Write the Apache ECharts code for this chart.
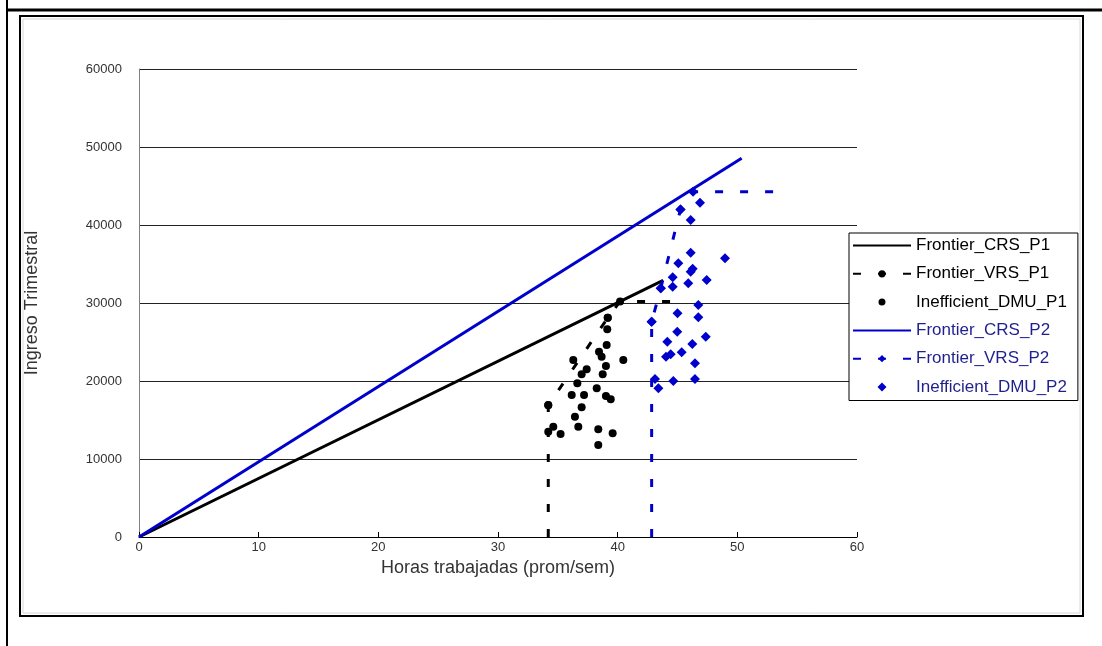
<!DOCTYPE html>
<html>
<head>
<meta charset="utf-8">
<script src="https://cdn.jsdelivr.net/npm/echarts@6/dist/echarts.min.js"></script>
<style>
  html, body { margin: 0; padding: 0; background: #fff; }
  #chart { width: 1102px; height: 646px; }
</style>
</head>
<body>
<div id="chart"></div>
<script>
// frontier lines (x = horas, y = ingreso)
const crsP1 = [[0, 0], [43.8, 32900]];
const vrsP1 = [[34.2, 0], [34.2, 16900], [39.17, 28100], [40.2, 30200], [44.5, 30200]];
const crsP2 = [[0, 0], [50.36, 48550]];
const vrsP2 = [[42.84, 0], [42.84, 27600], [43.6, 31880], [45.25, 42000], [46.3, 44270], [53.1, 44270]];

// inefficient DMUs
const dmuP1 = [
  [39.17, 28115], [39.13, 26630], [39.08, 24615], [38.44, 23760], [38.66, 23115],
  [36.29, 22690], [40.47, 22690], [39.02, 21920], [37.41, 21500], [36.99, 20860],
  [38.75, 20860], [36.63, 19700], [38.25, 19060], [36.16, 18200], [37.19, 18200],
  [39.02, 18080], [39.42, 17650], [34.2, 16920], [36.99, 16630], [36.43, 15420],
  [36.71, 14140], [34.62, 14140], [34.2, 13500], [35.23, 13200], [38.38, 13800],
  [39.58, 13300], [38.38, 11800]
];
const dmuP2 = [
  [45.25, 42000], [46.88, 42860], [46.1, 40640], [46.1, 36450], [45.07, 35090],
  [46.27, 34400], [46.1, 34000], [48.97, 35730], [44.6, 33300], [44.6, 32090],
  [43.6, 31880], [45.9, 32520], [47.44, 32950], [45.0, 28680], [46.74, 29740],
  [46.74, 28160], [42.84, 27600], [44.98, 26320], [47.36, 25680], [44.15, 25040],
  [46.24, 24740], [45.35, 23680], [44.43, 23420], [44.04, 23110], [46.46, 22270],
  [43.12, 20260], [44.65, 20000], [46.46, 20260], [43.4, 19060]
];

const seriesNames = ['Frontier_CRS_P1', 'Frontier_VRS_P1', 'Inefficient_DMU_P1',
                     'Frontier_CRS_P2', 'Frontier_VRS_P2', 'Inefficient_DMU_P2'];

const BLACK = '#000000';
const BLUE = '#0000cc';
const FONT = 'Arial, "Liberation Sans", sans-serif';

// ends of the VRS frontier carry no marker
function withEnds(arr) {
  return arr.map((p, i) =>
    (i === 0 || i === arr.length - 1) ? { value: p, symbol: 'none' } : p);
}

// small diamond in the middle of a 58x9 legend box
const diamondIcon = 'path://M0,0L0.01,0Z M58,9L57.99,9Z M29,0L33.5,4.5L29,9L24.5,4.5Z';
const dotIcon = 'path://M0,0L0.01,0Z M58,9L57.99,9Z M29,1A3.5,3.5,0,1,1,28.99,1Z';

const chart = echarts.init(document.getElementById('chart'), null, { renderer: 'canvas' });

const option = {
  animation: false,
  backgroundColor: '#fff',
  graphic: [
    { type: 'line', shape: { x1: 7, y1: 0, x2: 7, y2: 646 }, style: { stroke: '#000', lineWidth: 2 } },
    { type: 'line', shape: { x1: 7, y1: 10, x2: 1102, y2: 10 }, style: { stroke: '#000', lineWidth: 3 } },
    { type: 'rect', shape: { x: 20, y: 16, width: 1063, height: 600 }, style: { fill: 'none', stroke: '#000', lineWidth: 2 } },
    { type: 'rect', shape: { x: 23, y: 19, width: 1057, height: 594 }, style: { fill: 'none', stroke: '#d8d8d8', lineWidth: 1 } }
  ],
  grid: { left: 139, top: 69, right: 245, bottom: 109 },
  legend: {
    orient: 'vertical',
    left: 849,
    top: 233,
    padding: [4, 11, 5, 3],
    itemWidth: 58,
    itemHeight: 9,
    itemGap: 11.3,
    borderColor: '#000',
    borderWidth: 1,
    backgroundColor: '#fff',
    textStyle: { fontFamily: FONT, fontSize: 17 },
    data: seriesNames.map(n => {
      const item = { name: n, textStyle: { color: n.endsWith('P2') ? '#1f1f8f' : '#000' } };
      if (n.indexOf('CRS') > -1) item.itemStyle = { opacity: 0 };
      if (n === 'Inefficient_DMU_P2') item.icon = diamondIcon;
      if (n === 'Inefficient_DMU_P1') item.icon = dotIcon;
      return item;
    })
  },
  xAxis: {
    type: 'value',
    min: 0, max: 60, interval: 10,
    name: 'Horas trabajadas (prom/sem)',
    nameLocation: 'middle',
    nameGap: 19,
    nameTextStyle: { fontFamily: FONT, fontSize: 18, color: '#333' },
    axisLine: { show: true, lineStyle: { color: '#000', width: 1 } },
    axisTick: { show: true, inside: true, length: 5, lineStyle: { color: '#000' } },
    axisLabel: { margin: 4, fontFamily: FONT, fontSize: 13, color: '#333' },
    splitLine: { show: false }
  },
  yAxis: {
    type: 'value',
    min: 0, max: 60000, interval: 10000,
    name: 'Ingreso Trimestral',
    nameLocation: 'middle',
    nameGap: 98,
    nameTextStyle: { fontFamily: FONT, fontSize: 18, color: '#333' },
    axisLine: { show: true, lineStyle: { color: '#808080', width: 1 } },
    axisTick: { show: false },
    axisLabel: { margin: 17, fontFamily: FONT, fontSize: 13, color: '#333', formatter: v => String(v) },
    splitLine: { show: true, lineStyle: { color: '#222', width: 1 } }
  },
  series: [
    {
      name: seriesNames[0], type: 'line', data: crsP1, symbol: 'none',
      lineStyle: { color: BLACK, width: 3 }, itemStyle: { color: BLACK }
    },
    {
      name: seriesNames[1], type: 'line', data: withEnds(vrsP1),
      symbol: 'circle', symbolSize: 8,
      lineStyle: { color: BLACK, width: 3, type: [8, 17] }, itemStyle: { color: BLACK }
    },
    {
      name: seriesNames[2], type: 'scatter', data: dmuP1,
      symbol: 'circle', symbolSize: 8, itemStyle: { color: BLACK, opacity: 1 }
    },
    {
      name: seriesNames[3], type: 'line', data: crsP2, symbol: 'none',
      lineStyle: { color: BLUE, width: 3 }, itemStyle: { color: BLUE }
    },
    {
      name: seriesNames[4], type: 'line', data: withEnds(vrsP2),
      symbol: 'diamond', symbolSize: 10,
      lineStyle: { color: BLUE, width: 3, type: [8, 17] }, itemStyle: { color: BLUE }
    },
    {
      name: seriesNames[5], type: 'scatter', data: dmuP2,
      symbol: 'diamond', symbolSize: 10,
      itemStyle: { color: BLUE, opacity: 1 }
    }
  ]
};

chart.setOption(option);
</script>
</body>
</html>
